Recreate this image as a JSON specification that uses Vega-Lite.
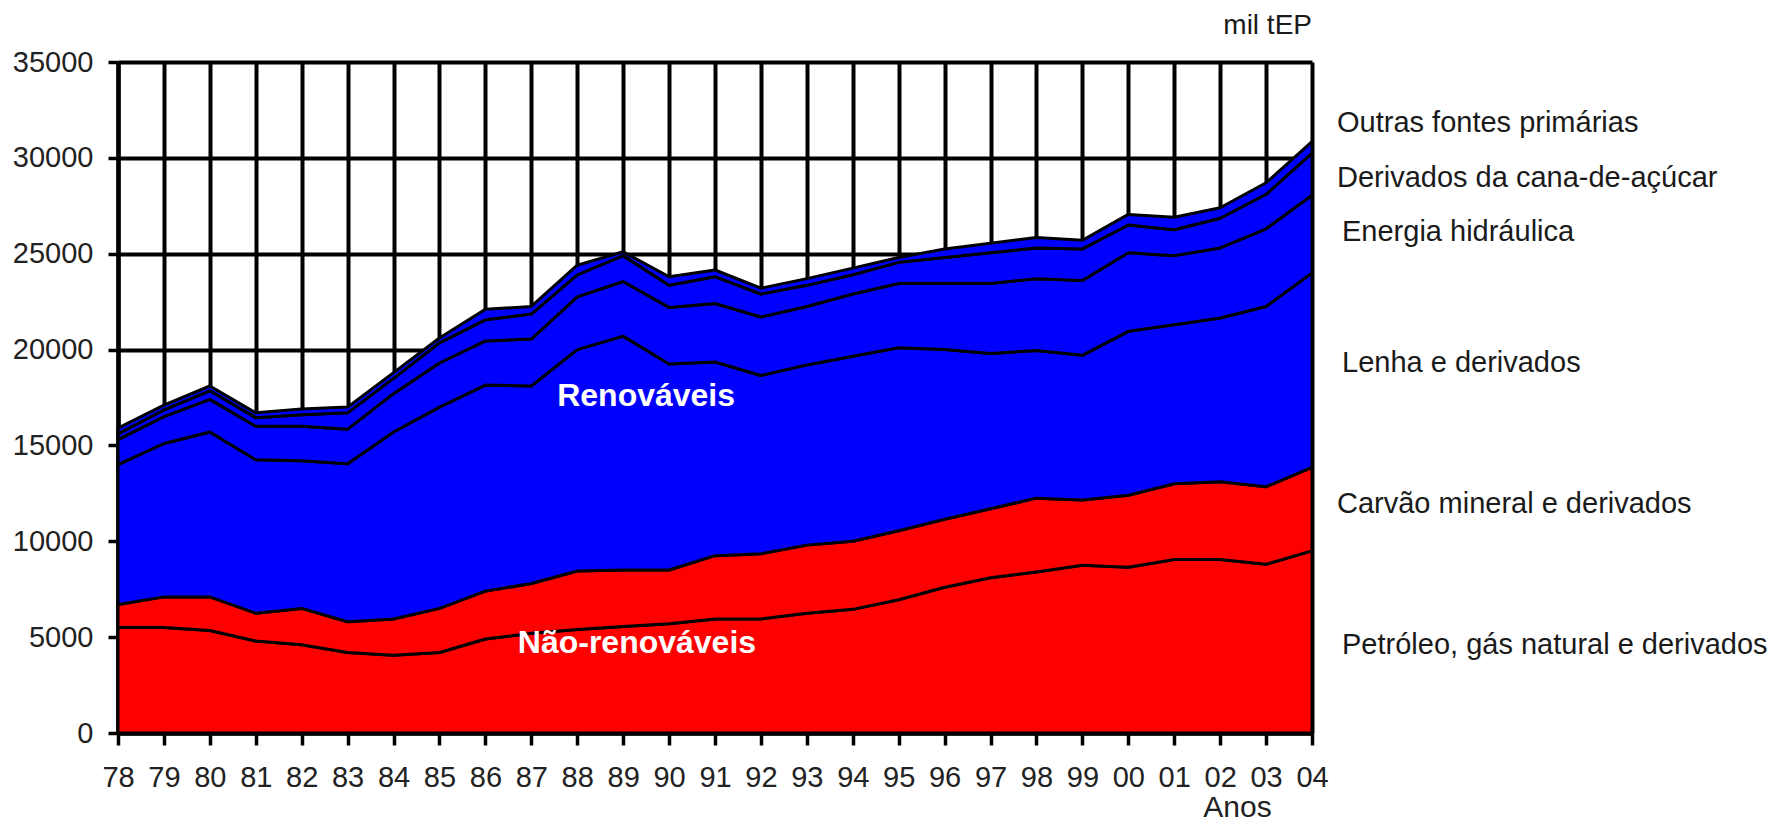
{
  "$schema": "https://vega.github.io/schema/vega-lite/v6.json",
  "width": 1194,
  "height": 671,
  "padding": {"left": 12, "top": 12, "right": 2, "bottom": 0},
  "background": "white",
  "title": {"text": "mil tEP", "anchor": "end", "frame": "group", "fontSize": 28, "font": "Liberation Sans", "fontWeight": "normal", "color": "#1a1a1a", "offset": 8},
  "datasets": {
    "ordem": [
      {"fonte": "petroleo", "ordem": 1},
      {"fonte": "carvao", "ordem": 2},
      {"fonte": "lenha", "ordem": 3},
      {"fonte": "hidraulica", "ordem": 4},
      {"fonte": "cana", "ordem": 5},
      {"fonte": "outras", "ordem": 6}
    ]
  },
  "layer": [
    {
      "data": {"values": [
        {"ano": 1978, "petroleo": 5500, "carvao": 1200, "lenha": 7300, "hidraulica": 1300, "cana": 300, "outras": 300},
        {"ano": 1979, "petroleo": 5500, "carvao": 1600, "lenha": 8000, "hidraulica": 1400, "cana": 350, "outras": 250},
        {"ano": 1980, "petroleo": 5350, "carvao": 1750, "lenha": 8600, "hidraulica": 1700, "cana": 450, "outras": 250},
        {"ano": 1981, "petroleo": 4800, "carvao": 1450, "lenha": 8000, "hidraulica": 1750, "cana": 450, "outras": 250},
        {"ano": 1982, "petroleo": 4600, "carvao": 1900, "lenha": 7700, "hidraulica": 1800, "cana": 600, "outras": 300},
        {"ano": 1983, "petroleo": 4200, "carvao": 1600, "lenha": 8250, "hidraulica": 1800, "cana": 850, "outras": 300},
        {"ano": 1984, "petroleo": 4050, "carvao": 1900, "lenha": 9750, "hidraulica": 2000, "cana": 800, "outras": 300},
        {"ano": 1985, "petroleo": 4200, "carvao": 2300, "lenha": 10500, "hidraulica": 2300, "cana": 1050, "outras": 250},
        {"ano": 1986, "petroleo": 4900, "carvao": 2500, "lenha": 10750, "hidraulica": 2300, "cana": 1100, "outras": 550},
        {"ano": 1987, "petroleo": 5200, "carvao": 2600, "lenha": 10300, "hidraulica": 2450, "cana": 1300, "outras": 400},
        {"ano": 1988, "petroleo": 5400, "carvao": 3050, "lenha": 11550, "hidraulica": 2750, "cana": 1150, "outras": 500},
        {"ano": 1989, "petroleo": 5550, "carvao": 2950, "lenha": 12200, "hidraulica": 2850, "cana": 1350, "outras": 200},
        {"ano": 1990, "petroleo": 5700, "carvao": 2800, "lenha": 10750, "hidraulica": 2950, "cana": 1150, "outras": 450},
        {"ano": 1991, "petroleo": 5950, "carvao": 3300, "lenha": 10100, "hidraulica": 3050, "cana": 1400, "outras": 350},
        {"ano": 1992, "petroleo": 5950, "carvao": 3400, "lenha": 9300, "hidraulica": 3050, "cana": 1200, "outras": 300},
        {"ano": 1993, "petroleo": 6250, "carvao": 3550, "lenha": 9400, "hidraulica": 3050, "cana": 1100, "outras": 350},
        {"ano": 1994, "petroleo": 6450, "carvao": 3550, "lenha": 9650, "hidraulica": 3250, "cana": 1000, "outras": 350},
        {"ano": 1995, "petroleo": 6950, "carvao": 3600, "lenha": 9550, "hidraulica": 3350, "cana": 1100, "outras": 250},
        {"ano": 1996, "petroleo": 7600, "carvao": 3550, "lenha": 8850, "hidraulica": 3450, "cana": 1350, "outras": 450},
        {"ano": 1997, "petroleo": 8100, "carvao": 3600, "lenha": 8100, "hidraulica": 3650, "cana": 1600, "outras": 500},
        {"ano": 1998, "petroleo": 8400, "carvao": 3850, "lenha": 7700, "hidraulica": 3750, "cana": 1600, "outras": 550},
        {"ano": 1999, "petroleo": 8750, "carvao": 3400, "lenha": 7550, "hidraulica": 3900, "cana": 1650, "outras": 450},
        {"ano": 2000, "petroleo": 8650, "carvao": 3750, "lenha": 8550, "hidraulica": 4100, "cana": 1450, "outras": 550},
        {"ano": 2001, "petroleo": 9050, "carvao": 3950, "lenha": 8300, "hidraulica": 3600, "cana": 1350, "outras": 650},
        {"ano": 2002, "petroleo": 9050, "carvao": 4050, "lenha": 8550, "hidraulica": 3650, "cana": 1550, "outras": 550},
        {"ano": 2003, "petroleo": 8800, "carvao": 4050, "lenha": 9400, "hidraulica": 4050, "cana": 1800, "outras": 600},
        {"ano": 2004, "petroleo": 9500, "carvao": 4350, "lenha": 10150, "hidraulica": 4050, "cana": 2200, "outras": 600}
      ]},
      "transform": [
        {"fold": ["petroleo", "carvao", "lenha", "hidraulica", "cana", "outras"], "as": ["fonte", "valor"]},
        {"lookup": "fonte", "from": {"data": {"name": "ordem"}, "key": "fonte", "fields": ["ordem"]}}
      ],
      "mark": {"type": "area", "stroke": "black", "strokeWidth": 3, "strokeJoin": "round", "opacity": 1, "fillOpacity": 1},
      "encoding": {
        "x": {"field": "ano", "type": "quantitative",
          "scale": {"domain": [1978, 2004], "nice": false, "zero": false},
          "axis": {
            "title": "Anos",
            "values": [1978,1979,1980,1981,1982,1983,1984,1985,1986,1987,1988,1989,1990,1991,1992,1993,1994,1995,1996,1997,1998,1999,2000,2001,2002,2003,2004],
            "labelExpr": "substring(toString(datum.value), 2)",
            "grid": true, "gridColor": "black", "gridWidth": 4, "gridOpacity": 1,
            "domainColor": "black", "domainWidth": 4.5,
            "tickColor": "black", "tickWidth": 3.5, "tickSize": 12,
            "labelFont": "Liberation Sans", "labelFontSize": 29, "labelColor": "#222222", "labelPadding": 18,
            "labelOverlap": false, "labelFlush": false,
            "titleFont": "Liberation Sans", "titleFontSize": 30, "titleFontWeight": "normal", "titleColor": "#222222",
            "titleAnchor": "end", "titleAlign": "center", "titleX": 1119, "titleY": 59, "titleBaseline": "top"
          }
        },
        "y": {"field": "valor", "type": "quantitative", "stack": "zero",
          "scale": {"domain": [0, 35000], "nice": false},
          "axis": {
            "title": null,
            "values": [0, 5000, 10000, 15000, 20000, 25000, 30000, 35000],
            "format": "d",
            "grid": true, "gridColor": "black", "gridWidth": 4, "gridOpacity": 1,
            "domainColor": "black", "domainWidth": 4.5,
            "tickColor": "black", "tickWidth": 3.5, "tickSize": 10,
            "labelFont": "Liberation Sans", "labelFontSize": 29, "labelColor": "#222222", "labelPadding": 15
          }
        },
        "color": {"field": "fonte", "type": "nominal", "legend": null,
          "scale": {"domain": ["petroleo", "carvao", "lenha", "hidraulica", "cana", "outras"],
                    "range": ["#ff0000", "#ff0000", "#0000ff", "#0000ff", "#0000ff", "#0000ff"]}},
        "order": {"field": "ordem", "type": "quantitative", "sort": "ascending"}
      }
    },
    {
      "data": {"values": [
        {"ano": 2004, "valor": 31800, "texto": "Outras fontes primárias"},
        {"ano": 2004, "valor": 28950, "texto": "Derivados da cana-de-açúcar"},
        {"ano": 2004, "valor": 11950, "texto": "Carvão mineral e derivados"}
      ]},
      "mark": {"type": "text", "align": "left", "baseline": "middle", "dx": 25, "font": "Liberation Sans", "fontSize": 29, "color": "#1a1a1a"},
      "encoding": {
        "x": {"field": "ano", "type": "quantitative"},
        "y": {"field": "valor", "type": "quantitative", "stack": null},
        "text": {"field": "texto"}
      }
    },
    {
      "data": {"values": [
        {"ano": 2004, "valor": 26130, "texto": "Energia hidráulica"},
        {"ano": 2004, "valor": 19300, "texto": "Lenha e derivados"},
        {"ano": 2004, "valor": 4600, "texto": "Petróleo, gás natural e derivados"}
      ]},
      "mark": {"type": "text", "align": "left", "baseline": "middle", "dx": 30, "font": "Liberation Sans", "fontSize": 29, "color": "#1a1a1a"},
      "encoding": {
        "x": {"field": "ano", "type": "quantitative"},
        "y": {"field": "valor", "type": "quantitative", "stack": null},
        "text": {"field": "texto"}
      }
    },
    {
      "data": {"values": [
        {"ano": 1989.5, "valor": 17600, "texto": "Renováveis"},
        {"ano": 1989.3, "valor": 4700, "texto": "Não-renováveis"}
      ]},
      "mark": {"type": "text", "align": "center", "baseline": "middle", "font": "Liberation Sans", "fontSize": 32, "fontWeight": "bold", "color": "white"},
      "encoding": {
        "x": {"field": "ano", "type": "quantitative"},
        "y": {"field": "valor", "type": "quantitative", "stack": null},
        "text": {"field": "texto"}
      }
    }
  ],
  "config": {"view": {"stroke": null}}
}
